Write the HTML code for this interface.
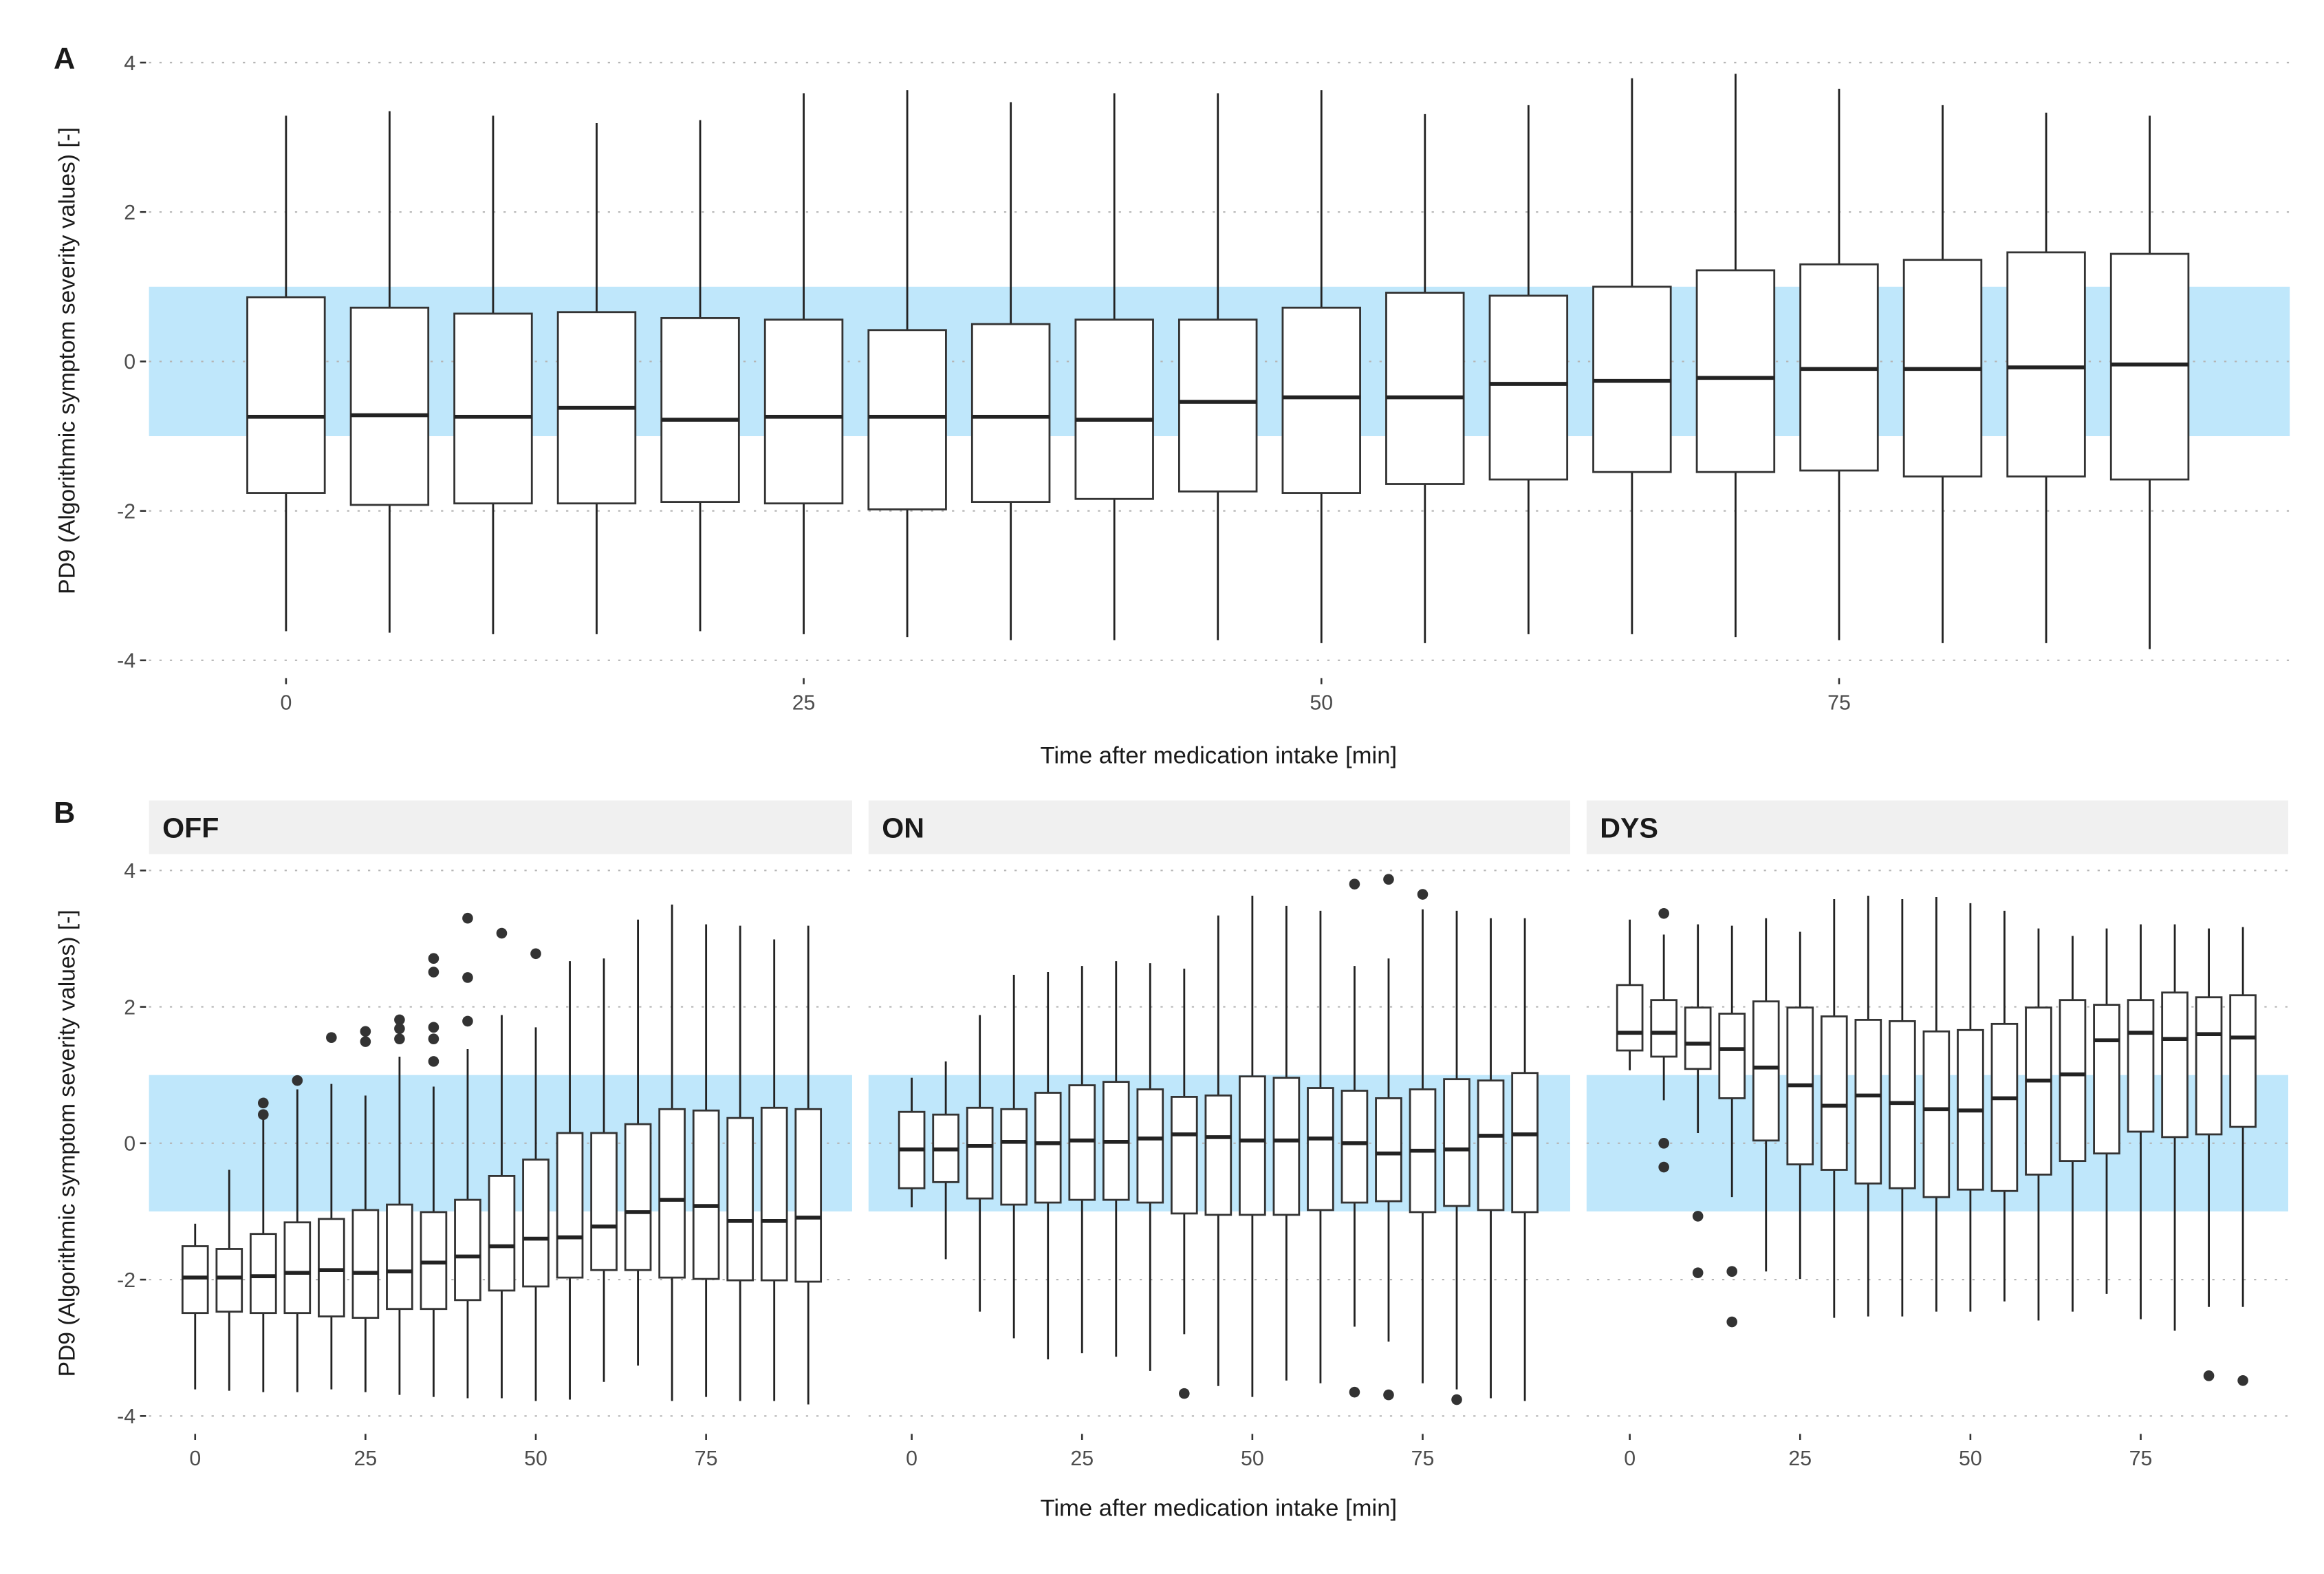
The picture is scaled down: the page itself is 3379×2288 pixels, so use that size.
<!DOCTYPE html>
<html><head><meta charset="utf-8"><style>
html,body{margin:0;padding:0;background:#fff}
svg{display:block}
text{font-family:"Liberation Sans",sans-serif}
</style></head><body>
<svg id="chart" width="3379" height="2288" viewBox="0 0 1560 1056" preserveAspectRatio="none" xmlns="http://www.w3.org/2000/svg"></svg>
<script>
const times=[0,5,10,15,20,25,30,35,40,45,50,55,60,65,70,75,80,85,90];
// Panel A
const aHi=[3.29,3.35,3.29,3.19,3.23,3.59,3.63,3.47,3.59,3.59,3.63,3.31,3.43,3.79,3.85,3.65,3.43,3.33,3.29];
const aQ3=[0.86,0.72,0.64,0.66,0.58,0.56,0.42,0.50,0.56,0.56,0.72,0.92,0.88,1.00,1.22,1.30,1.36,1.46,1.44];
const aMed=[-0.74,-0.72,-0.74,-0.62,-0.78,-0.74,-0.74,-0.74,-0.78,-0.54,-0.48,-0.48,-0.30,-0.26,-0.22,-0.10,-0.10,-0.08,-0.04];
const aQ1=[-1.76,-1.92,-1.90,-1.90,-1.88,-1.90,-1.98,-1.88,-1.84,-1.74,-1.76,-1.64,-1.58,-1.48,-1.48,-1.46,-1.54,-1.54,-1.58];
const aLo=[-3.61,-3.63,-3.65,-3.65,-3.61,-3.65,-3.69,-3.73,-3.73,-3.73,-3.77,-3.77,-3.65,-3.65,-3.69,-3.73,-3.77,-3.77,-3.85];
// OFF
const offHi=[-1.18,-0.39,0.48,0.79,0.87,0.70,1.27,0.83,1.38,1.88,1.70,2.67,2.71,3.28,3.50,3.21,3.19,2.99,3.19];
const offQ3=[-1.51,-1.55,-1.33,-1.16,-1.11,-0.98,-0.90,-1.01,-0.83,-0.48,-0.24,0.15,0.15,0.28,0.50,0.48,0.37,0.52,0.50];
const offMed=[-1.97,-1.97,-1.95,-1.90,-1.86,-1.90,-1.88,-1.75,-1.66,-1.51,-1.40,-1.38,-1.22,-1.01,-0.83,-0.92,-1.14,-1.14,-1.09];
const offQ1=[-2.49,-2.47,-2.49,-2.49,-2.54,-2.56,-2.43,-2.43,-2.30,-2.16,-2.10,-1.97,-1.86,-1.86,-1.97,-1.99,-2.01,-2.01,-2.03];
const offLo=[-3.61,-3.63,-3.65,-3.65,-3.61,-3.65,-3.69,-3.72,-3.74,-3.74,-3.78,-3.76,-3.50,-3.26,-3.78,-3.72,-3.78,-3.78,-3.83];
const offOutT=[10,10,15,20,25,25,30,30,30,35,35,35,35,35,40,40,40,45,50];
const offOutV=[0.59,0.42,0.92,1.55,1.64,1.49,1.81,1.68,1.53,2.71,2.51,1.70,1.53,1.20,3.30,2.43,1.79,3.08,2.78];
// ON
const onHi=[0.96,1.20,1.88,2.47,2.51,2.60,2.67,2.64,2.56,3.34,3.63,3.48,3.41,2.60,2.71,3.43,3.41,3.30,3.30];
const onQ3=[0.46,0.42,0.52,0.50,0.74,0.85,0.90,0.79,0.68,0.70,0.98,0.96,0.81,0.77,0.66,0.79,0.94,0.92,1.03];
const onMed=[-0.09,-0.09,-0.04,0.02,0,0.04,0.02,0.07,0.13,0.09,0.04,0.04,0.07,0,-0.15,-0.11,-0.09,0.11,0.13];
const onQ1=[-0.66,-0.57,-0.81,-0.90,-0.87,-0.83,-0.83,-0.87,-1.03,-1.05,-1.05,-1.05,-0.98,-0.87,-0.85,-1.01,-0.92,-0.98,-1.01];
const onLo=[-0.94,-1.70,-2.47,-2.86,-3.17,-3.08,-3.13,-3.34,-2.80,-3.56,-3.72,-3.48,-3.52,-2.69,-2.91,-3.52,-3.61,-3.74,-3.78];
const onOutT=[40,65,65,70,70,75,80];
const onOutV=[-3.67,3.80,-3.65,3.87,-3.69,3.65,-3.76];
// DYS
const dysHi=[3.28,3.06,3.21,3.19,3.30,3.10,3.58,3.63,3.58,3.61,3.52,3.41,3.15,3.04,3.15,3.21,3.21,3.15,3.17];
const dysQ3=[2.32,2.10,1.99,1.90,2.08,1.99,1.86,1.81,1.79,1.64,1.66,1.75,1.99,2.10,2.03,2.10,2.21,2.14,2.17];
const dysMed=[1.62,1.62,1.46,1.38,1.11,0.85,0.55,0.70,0.59,0.50,0.48,0.66,0.92,1.01,1.51,1.62,1.53,1.60,1.55];
const dysQ1=[1.36,1.27,1.09,0.66,0.04,-0.31,-0.39,-0.59,-0.66,-0.79,-0.68,-0.70,-0.46,-0.26,-0.15,0.17,0.09,0.13,0.24];
const dysLo=[1.07,0.63,0.15,-0.79,-1.88,-1.99,-2.56,-2.54,-2.54,-2.47,-2.47,-2.32,-2.60,-2.47,-2.21,-2.58,-2.75,-2.40,-2.40];
const dysOutT=[5,5,5,10,10,15,15,85,90];
const dysOutV=[3.37,0,-0.35,-1.07,-1.90,-1.88,-2.62,-3.41,-3.48];
const yTicks=[4,2,0,-2,-4];
const xTicks=[0,25,50,75];

const svg=document.getElementById('chart');
const NS='http://www.w3.org/2000/svg';
function mk(tag,attrs,parent){const e=document.createElementNS(NS,tag);for(const k in attrs)e.setAttribute(k,attrs[k]);(parent||svg).appendChild(e);return e;}

function panel(name,x0,x1,yTop,yBot,tx0,pxPerMin,boxW,data,outT,outV,showY){
  const g=mk('g',{});
  
  
  const ys=v=>yTop+(4-v)*(yBot-yTop)/8;
  const xs=t=>tx0+t*pxPerMin;
  const band=mk('rect',{x:x0,y:ys(1),width:x1-x0,height:ys(-1)-ys(1),fill:'#bfe7fb'},g);
  
  
  yTicks.forEach(v=>{
    const l=mk('line',{x1:x0,x2:x1,y1:ys(v),y2:ys(v),stroke:'#b5b5b5','stroke-width':1,'stroke-dasharray':'1.5 5.5'},g);
    
    
    if(showY){
      mk('line',{x1:x0-6,x2:x0-2,y1:ys(v),y2:ys(v),stroke:'#333','stroke-width':1.2},g);
      const t=mk('text',{x:x0-9,y:ys(v)+5,'text-anchor':'end','font-size':14,fill:'#4d4d4d'},g);
      t.textContent=v;
      
      
    }
  });
  xTicks.forEach(v=>{
    mk('line',{x1:xs(v),x2:xs(v),y1:yBot+12,y2:yBot+16,stroke:'#333','stroke-width':1.2},g);
    const t=mk('text',{x:xs(v),y:yBot+33,'text-anchor':'middle','font-size':14,fill:'#4d4d4d'},g);
    t.textContent=v;
    
    
  });
  const [hi,q3,med,q1,lo]=data;
  times.forEach((tm,i)=>{
    const bg=mk('g',{},g);
    
    
    const cx=xs(tm);
    mk('line',{x1:cx,x2:cx,y1:ys(hi[i]),y2:ys(q3[i]),stroke:'#222','stroke-width':1.3},bg);
    mk('line',{x1:cx,x2:cx,y1:ys(q1[i]),y2:ys(lo[i]),stroke:'#222','stroke-width':1.3},bg);
    mk('rect',{x:cx-boxW/2,y:ys(q3[i]),width:boxW,height:ys(q1[i])-ys(q3[i]),fill:'#fff',stroke:'#333','stroke-width':1.3},bg);
    mk('line',{x1:cx-boxW/2,x2:cx+boxW/2,y1:ys(med[i]),y2:ys(med[i]),stroke:'#222','stroke-width':2.6},bg);
  });
  if(outT){outT.forEach((tm,i)=>{
    const c=mk('circle',{cx:xs(tm),cy:ys(outV[i]),r:3.6,fill:'#333'},g);
    
    
  });}
  return ys;
}

// Panel A
panel('panel-a',100,1537,42,443,192,13.9,52,[aHi,aQ3,aMed,aQ1,aLo],null,null,true);
// Panel B
const stripY=537,stripH=36;
[['off','OFF',100,572,131,[offHi,offQ3,offMed,offQ1,offLo],offOutT,offOutV,true],
 ['on','ON',583,1054,612,[onHi,onQ3,onMed,onQ1,onLo],onOutT,onOutV,false],
 ['dys','DYS',1065,1536,1094,[dysHi,dysQ3,dysMed,dysQ1,dysLo],dysOutT,dysOutV,false]].forEach(p=>{
  const r=mk('rect',{x:p[2],y:stripY,width:p[3]-p[2],height:stripH,fill:'#f0f0f0'});
  
  
  const t=mk('text',{x:p[2]+9,y:stripY+25,'font-size':19,'font-weight':'bold',fill:'#1a1a1a'});
  t.textContent=p[1];
  
  
  panel(p[0],p[2],p[3],584,950,p[4],4.573,17,p[5],p[6],p[7],p[8]);
});

function label(txt,x,y,size,name,extra){
  const t=mk('text',Object.assign({x:x,y:y,'font-size':size,fill:'#1a1a1a'},extra||{}));
  t.textContent=txt;
  
  
}
label('A',36,46,20,'panel-a-tag',{'font-weight':'bold'});
label('B',36,552,20,'panel-b-tag',{'font-weight':'bold'});
label('Time after medication intake [min]',818,512,16,'panel-a-x-axis-title',{'text-anchor':'middle'});
label('Time after medication intake [min]',818,1017,16,'panel-b-x-axis-title',{'text-anchor':'middle'});
label('PD9 (Algorithmic symptom severity values) [-]',0,0,15.5,'panel-a-y-axis-title',{'text-anchor':'middle',transform:'translate(50,242) rotate(-90)'});
label('PD9 (Algorithmic symptom severity values) [-]',0,0,15.5,'panel-b-y-axis-title',{'text-anchor':'middle',transform:'translate(50,767) rotate(-90)'});
</script>
</body></html>
